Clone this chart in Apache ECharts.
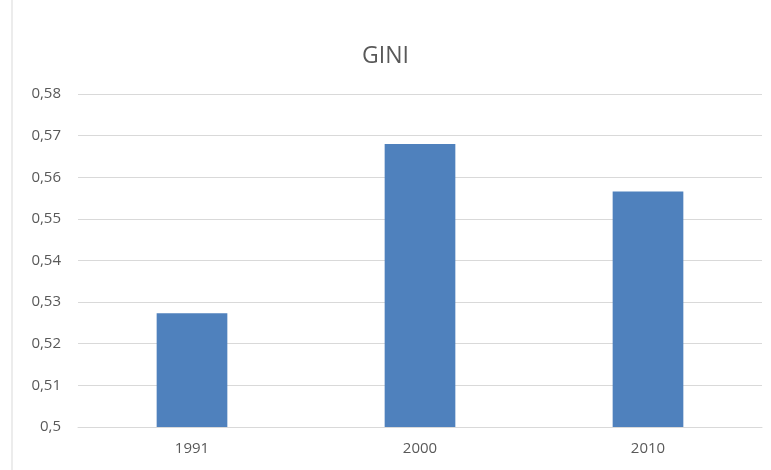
<!DOCTYPE html>
<html><head><meta charset="utf-8">
<script src="https://cdn.jsdelivr.net/npm/echarts@6/dist/echarts.min.js"></script>
<style>html,body{margin:0;padding:0;background:#fff}#c{width:771px;height:470px}</style>
</head><body><div id="c"></div>
<script>
const categories = ['1991', '2000', '2010'];
const giniValues = [0.5273, 0.568, 0.5566];
const yTicks = { min: 0.5, max: 0.58, interval: 0.01 };

const chart = echarts.init(document.getElementById('c'));
chart.setOption({
  backgroundColor: '#fff',
  animation: false,
  title: { text: 'GINI', left: 'center', top: 40,
    textStyle: { fontFamily: 'Open Sans', fontSize: 23, fontWeight: 'normal', color: '#595959' } },
  graphic: [{ type: 'line', shape: { x1: 12, y1: 0, x2: 12, y2: 470 }, style: { stroke: '#d9d9d9', lineWidth: 1 } }],
  grid: { left: 78, right: 9, top: 94, bottom: 43 },
  xAxis: { type: 'category', data: categories,
    axisLine: { lineStyle: { color: '#d9d9d9' } }, axisTick: { show: false },
    axisLabel: { color: '#595959', fontFamily: 'Open Sans', fontSize: 15, margin: 14 } },
  yAxis: { type: 'value', min: yTicks.min, max: yTicks.max, interval: yTicks.interval,
    axisLine: { show: false }, axisTick: { show: false },
    splitLine: { lineStyle: { color: '#d9d9d9' } },
    axisLabel: { color: '#595959', fontFamily: 'Open Sans', fontSize: 15, margin: 17,
      formatter: v => String(+v.toFixed(2)).replace('.', ',') } },
  series: [{ type: 'bar', data: giniValues, barWidth: '31%',
    itemStyle: { color: '#4f81bd' } }]
});
</script></body></html>
